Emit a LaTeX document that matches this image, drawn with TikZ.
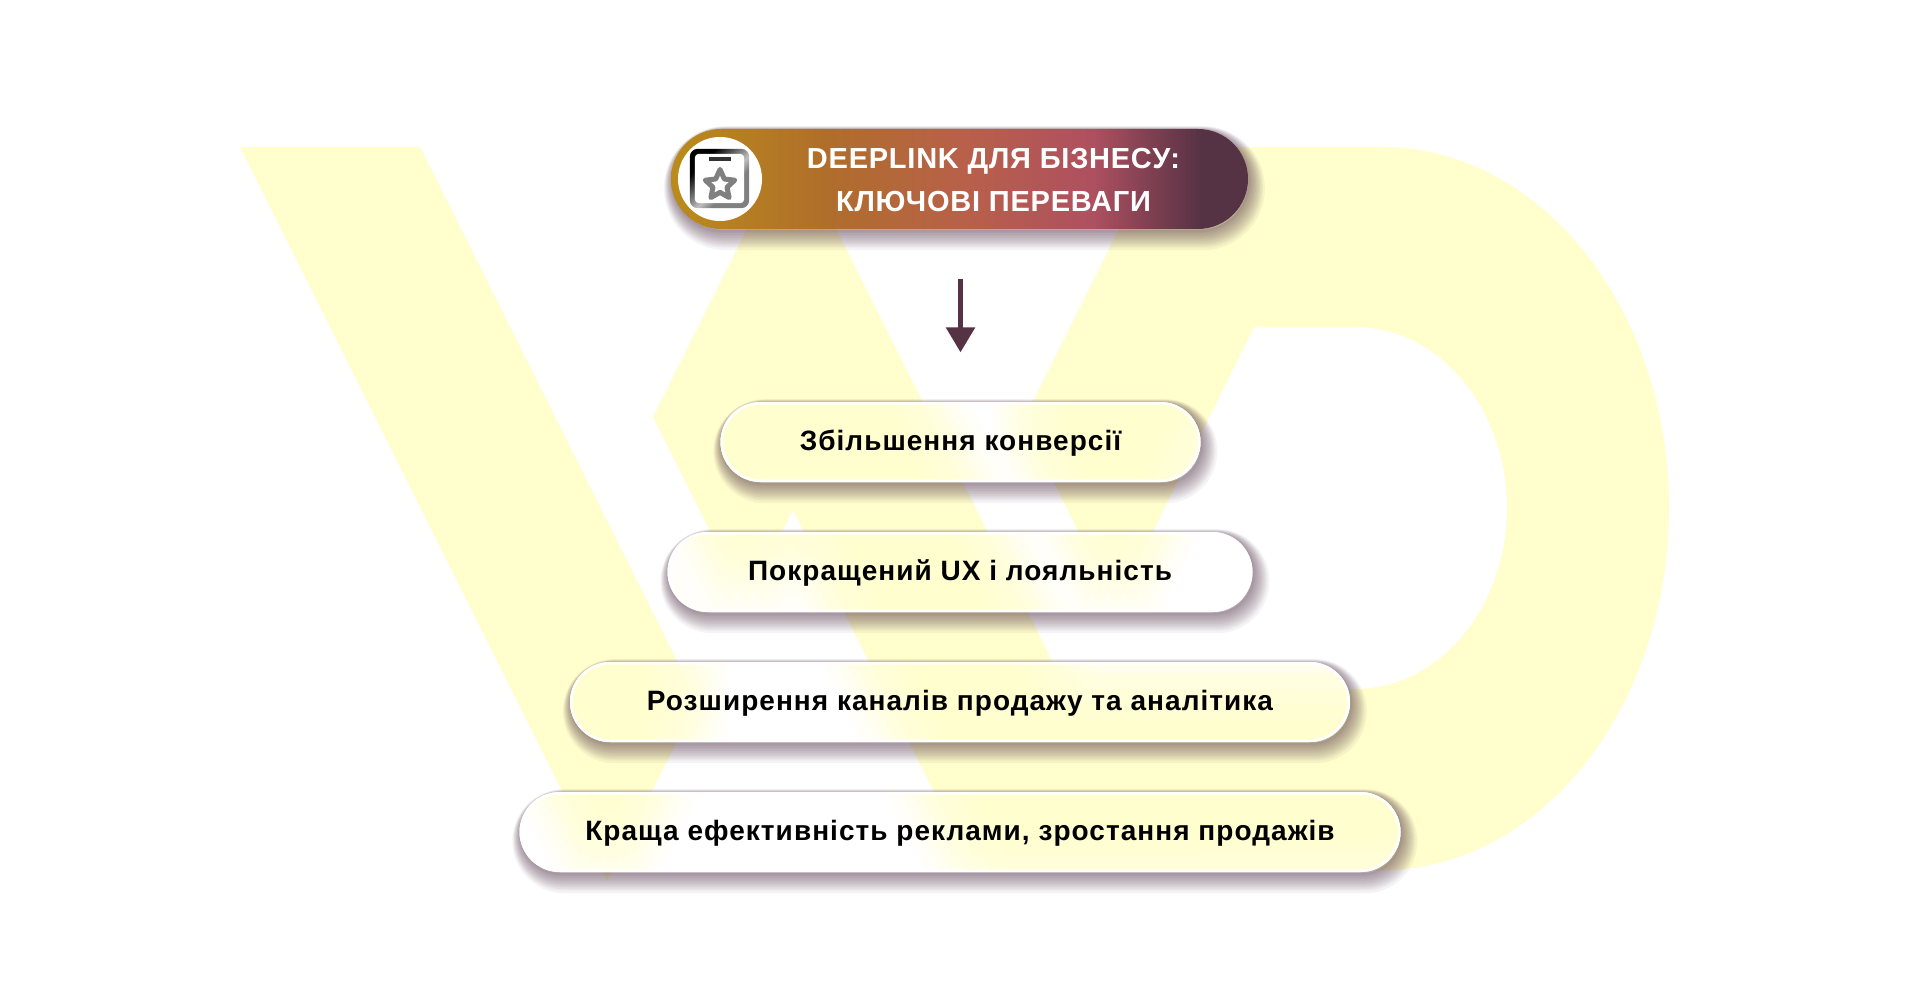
\documentclass[tikz,border=0pt]{standalone}
\usepackage{fontspec}
\setmainfont[LetterSpace=3.7]{Liberation Sans}
\newfontfamily\headfont[LetterSpace=2.6]{Liberation Sans}
\usetikzlibrary{arrows.meta,shapes.geometric}

\definecolor{markcream}{HTML}{FFFECC}
\definecolor{deepplum}{HTML}{553244}
\definecolor{dropplum}{HTML}{4A2A40}
\definecolor{headgold}{HTML}{BA8B1A}
\definecolor{headochre}{HTML}{AF6E2B}
\definecolor{headrust}{HTML}{B8604A}
\definecolor{headrose}{HTML}{AE5060}

\pgfdeclarehorizontalshading{headfade}{100bp}{color(0bp)=(headgold);color(25bp)=(headgold);color(38.5bp)=(headochre);color(50.5bp)=(headrust);color(61.5bp)=(headrose);color(71bp)=(deepplum);color(100bp)=(deepplum)}
\pgfdeclarehorizontalshading{metalfade}{100bp}{color(0bp)=(black);color(30bp)=(black);color(46bp)=(gray);color(54bp)=(lightgray);color(62bp)=(gray);color(100bp)=(gray)}

\tikzset{
softdrop/.style={preaction={draw=dropplum,line width=#1,opacity=.05,fill=none,
  transform canvas={xshift=.16*#1+.5pt,yshift=-.32*#1-.75pt}}},
allsoftdrop/.style={softdrop=12pt,softdrop=10.5pt,softdrop=9.5pt,softdrop=8.5pt,softdrop=7.5pt,softdrop=6.5pt,
  softdrop=5.5pt,softdrop=4.5pt,softdrop=3.5pt,softdrop=2.5pt,softdrop=1.5pt,softdrop=.75pt},
benefit/.style={rectangle,draw=white,line width=1.25pt,rounded corners=19.5pt,
  minimum height=38.75pt,inner sep=0pt,text=black,font=\fontsize{14}{17}\selectfont\bfseries,
  text height=11pt,text depth=2.2pt},
headpill/.style={rectangle,allsoftdrop,shading=headfade,rounded corners=25pt,
  minimum width=288.5pt,minimum height=50pt,inner sep=0pt},
flowarrow/.style={draw=deepplum,line width=2.75pt,-{Triangle[width=14pt,length=12.5pt]},
  shorten <=25pt,shorten >=24.8pt}
}

% the big VD mark, in px of the reference
\newcommand{\vdmark}{
  \fill (240,147) -- (420,147) -- (697,701) -- (607,881) -- cycle;
  \fill (1023,421) -- (1160,147) -- (1382,147)
    .. controls (1540,147) and (1669,308) .. (1669,508)
    .. controls (1669,708) and (1540,870) .. (1382,870)
    -- (974,872) -- (793,510) -- (746,603.5) -- (653,417) -- (791.5,140)
    -- (1066,689) -- (1355,689)
    .. controls (1439,689) and (1507,608) .. (1507,508)
    .. controls (1507,408) and (1439,327) .. (1355,327)
    -- (1254,327) -- (1116,606) -- cycle;
}
% drop shadow and frosted fill of a box: centre x, centre y, width
\newcommand{\glassbox}[3]{
  \path[allsoftdrop,fill=white,rounded corners=20pt] ({#1-#3/2},{#2-40}) rectangle ({#1+#3/2},{#2+40});
  \begin{scope}
    \clip[rounded corners=20pt] ({#1-#3/2},{#2-40}) rectangle ({#1+#3/2},{#2+40});
    \foreach \dx in {-32,-16,...,32}{
      \foreach \dy in {-32,-16,...,32}{
        \begin{scope}[shift={(\dx,\dy)},fill=markcream,fill opacity=.07]
          \vdmark
        \end{scope}
      }
    }
  \end{scope}
}

\begin{document}
\begin{tikzpicture}[x=0.5pt,y=-0.5pt]
  \useasboundingbox (0,0) rectangle (1920,1000);
  \fill[white] (0,0) rectangle (1920,1000);
  \begin{scope}[fill=markcream]
    \vdmark
  \end{scope}

  \node[headpill] (head) at (959.5,179) {};
  \node[circle,fill=white,minimum size=42pt,inner sep=0pt] (iconround) at (720,179) {};
  \node[rectangle,rounded corners=4pt,shading=metalfade,shading angle=-45,minimum size=29.7pt,inner sep=0pt] (iconframe) at (719.5,178.5) {};
  \node[rectangle,rounded corners=2pt,fill=white,minimum size=24.7pt,inner sep=0pt] (iconinner) at (719.5,178.5) {};
  \node[rectangle,fill=black!80,minimum width=11pt,minimum height=2pt,inner sep=0pt] (iconbar) at (720,159) {};
  \node[star,star points=5,star point ratio=2.1,draw=gray,fill=white,line width=2.5pt,line join=round,minimum size=15.5pt,inner sep=0pt] (iconstar) at (720,185) {};
  \node[text=white,align=center,font=\fontsize{14.5}{21.75}\selectfont\headfont\bfseries] (headtext) at (993.5,180)
    {DEEPLINK ДЛЯ БІЗНЕСУ:\\КЛЮЧОВІ ПЕРЕВАГИ};

  \glassbox{960.5}{442}{480}
  \glassbox{960}{572}{585}
  \glassbox{960}{702}{780}
  \glassbox{960}{832}{881}
  \node[benefit,minimum width=238.75pt] (conv) at (960.5,442) {Збільшення конверсії};
  \node[benefit,minimum width=291.25pt] (loyal) at (960,572) {Покращений UX і лояльність};
  \node[benefit,minimum width=388.75pt] (sales) at (960,702) {Розширення каналів продажу та аналітика};
  \node[benefit,minimum width=439.25pt] (ads) at (960,832) {Краща ефективність реклами, зростання продажів};

  \draw[flowarrow] (conv.north |- head.south) -- (conv);
\end{tikzpicture}
\end{document}
